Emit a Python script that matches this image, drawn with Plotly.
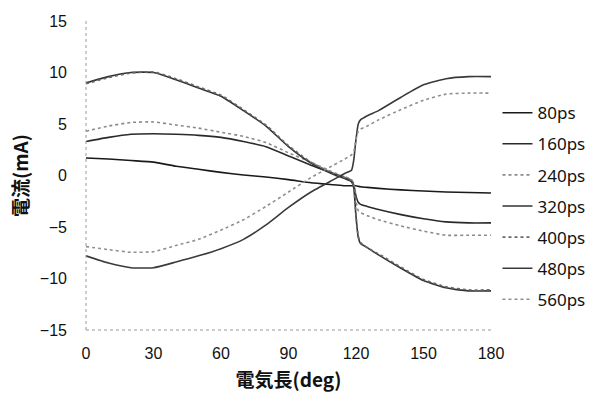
import plotly.graph_objects as go

x_deg = [0, 10, 20, 30, 40, 50, 60, 70, 80, 90, 100, 110, 115, 118, 119, 120, 121, 122, 125, 130, 140, 150, 160, 170, 180]

s80 = [1.7, 1.6, 1.45, 1.3, 0.9, 0.6, 0.3, 0.05, -0.15, -0.4, -0.7, -0.9, -1.0, -1.0, -1.0, -1.0, -1.05, -1.1, -1.15, -1.25, -1.4, -1.5, -1.6, -1.65, -1.7]
s160 = [3.3, 3.7, 4.0, 4.05, 4.0, 3.9, 3.7, 3.3, 2.8, 1.9, 1.0, 0.2, -0.2, -0.5, -0.9, -2.0, -2.6, -2.8, -3.0, -3.3, -3.8, -4.2, -4.5, -4.6, -4.6]
s240 = [4.3, 4.8, 5.15, 5.2, 4.9, 4.6, 4.2, 3.8, 3.2, 2.2, 1.3, 0.3, -0.1, -0.4, -0.8, -2.5, -3.4, -3.6, -3.9, -4.3, -4.9, -5.4, -5.8, -5.8, -5.8]
s320 = [9.0, 9.6, 10.0, 10.0, 9.3, 8.5, 7.7, 6.3, 4.8, 2.8, 1.2, 0.1, -0.3, -0.6, -1.2, -4.0, -6.0, -6.6, -7.0, -7.7, -9.0, -10.2, -10.9, -11.2, -11.2]
s400 = [8.9, 9.5, 9.95, 10.05, 9.4, 8.6, 7.8, 6.4, 4.9, 2.9, 1.3, 0.2, -0.2, -0.5, -1.1, -3.8, -5.9, -6.5, -7.0, -7.6, -8.9, -10.1, -10.8, -11.1, -11.1]
s480 = [-7.8, -8.5, -8.95, -8.95, -8.4, -7.8, -7.1, -6.2, -4.8, -3.1, -1.6, -0.4, 0.2, 0.5, 1.5, 3.5, 5.0, 5.4, 5.8, 6.3, 7.6, 8.8, 9.4, 9.6, 9.6]
s560 = [-6.9, -7.2, -7.45, -7.4, -6.8, -6.2, -5.3, -4.3, -3.0, -1.6, -0.2, 1.0, 1.6, 2.0, 2.3, 3.5, 4.3, 4.5, 4.8, 5.4, 6.4, 7.3, 7.9, 8.0, 8.0]

names = ["80ps", "160ps", "240ps", "320ps", "400ps", "480ps", "560ps"]
series = [s80, s160, s240, s320, s400, s480, s560]
colors = ["#1a1a1a", "#2a2a2a", "#8a8a8a", "#333333", "#6a6a6a", "#3a3a3a", "#8f8f8f"]
dashes = ["solid", "solid", "dot", "solid", "dot", "solid", "dot"]

x_ticks = [0, 30, 60, 90, 120, 150, 180]
y_ticks = [-15, -10, -5, 0, 5, 10, 15]

fig = go.Figure()
for n, s, c, d in zip(names, series, colors, dashes):
    fig.add_trace(go.Scatter(x=x_deg, y=s, name=n, mode="lines", legendgroup=n,
                             line=dict(color=c, width=1.6, dash=d, shape="spline", smoothing=0.5)))

font_num = "Liberation Sans, Arial, sans-serif"
font_cjk = "Noto Sans CJK JP, sans-serif"

fig.update_layout(
    width=602, height=394,
    margin=dict(l=86, r=105, t=21, b=64),
    plot_bgcolor="white", paper_bgcolor="white",
    legend=dict(x=1.016, y=0.760, xanchor="left", yanchor="top",
                font=dict(family="Noto Sans, sans-serif", size=17, color="#111"),
                tracegroupgap=6, itemwidth=30, bgcolor="rgba(0,0,0,0)"),
    xaxis=dict(range=[0, 180], tickvals=x_ticks, ticks="", showgrid=False, zeroline=False,
               showline=False, automargin=False,
               tickfont=dict(family=font_num, size=16, color="#111"),
               ticklabelstandoff=12,
               title=dict(text="<b>電気長(deg)</b>", font=dict(family=font_cjk, size=19, color="#111"), standoff=12)),
    yaxis=dict(range=[-15, 15], tickvals=y_ticks, ticks="", showgrid=False, zeroline=False,
               showline=False, automargin=False,
               tickfont=dict(family=font_num, size=16, color="#111"),
               ticklabelstandoff=18,
               title=dict(text="<b>電流(mA)</b>", font=dict(family=font_cjk, size=19, color="#111"), standoff=6)),
    shapes=[
        dict(type="line", xref="paper", yref="paper", x0=0, x1=0, y0=0, y1=1,
             line=dict(color="#999", width=1, dash="dot")),
        dict(type="line", xref="paper", yref="paper", x0=0, x1=1, y0=0, y1=0,
             line=dict(color="#999", width=1, dash="dot")),
    ],
)

fig.write_html("out.html", config={"displayModeBar": False},
               post_script="document.body.style.margin='0';")
